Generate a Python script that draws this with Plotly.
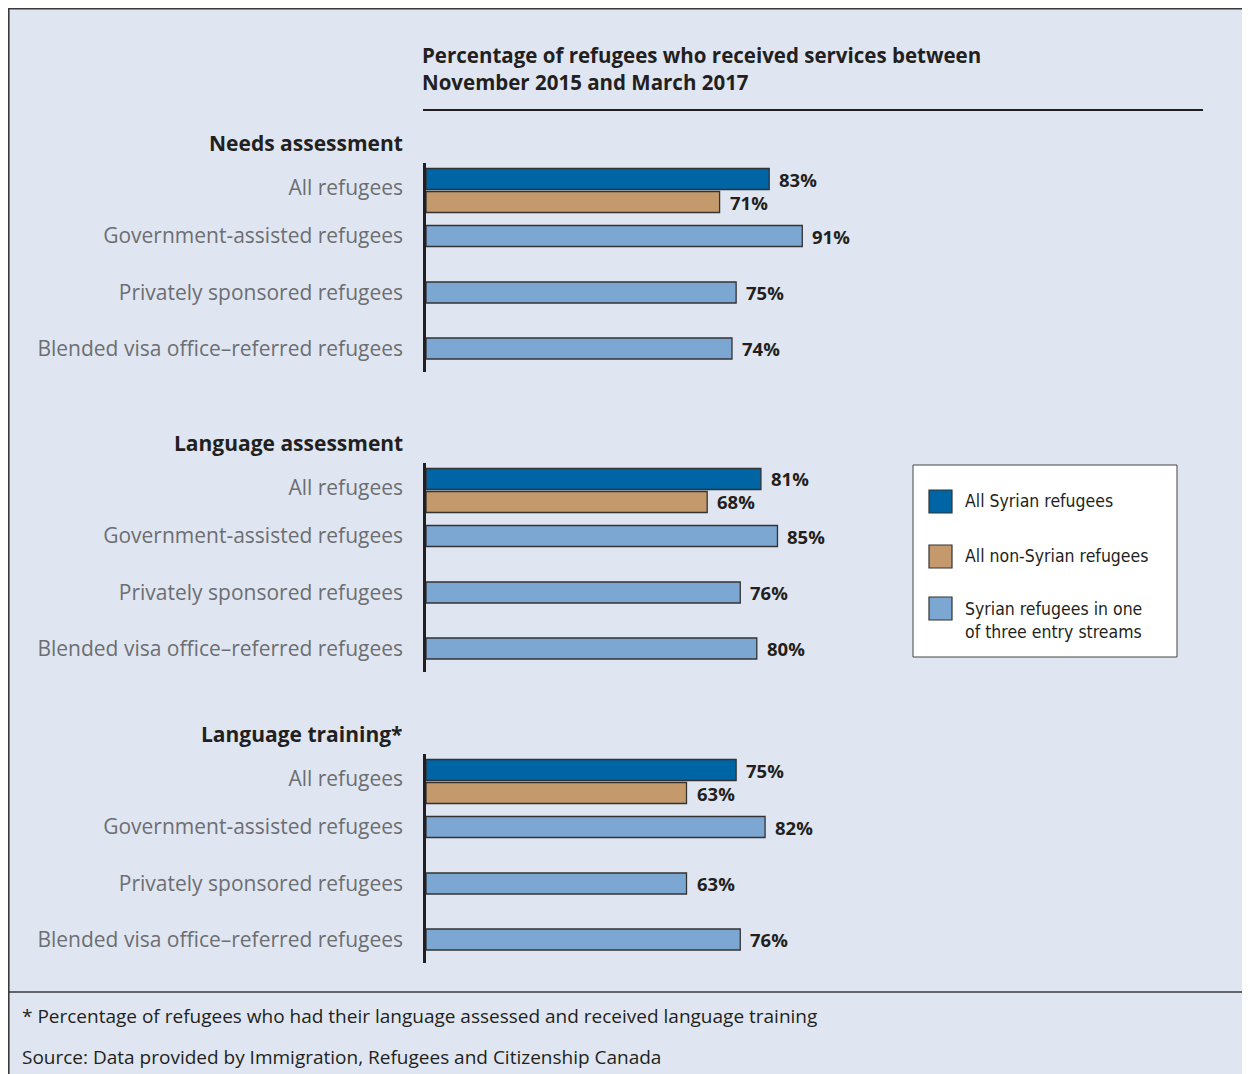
import plotly.graph_objects as go

# ---------------- data ----------------
panels = ["Needs assessment", "Language assessment", "Language training*"]
groups = ["All refugees", "Government-assisted refugees",
          "Privately sponsored refugees", "Blended visa office–referred refugees"]
all_syrian = [83, 81, 75]
all_non_syrian = [71, 68, 63]
government_assisted = [91, 85, 82]
privately_sponsored = [75, 76, 63]
blended_vor = [74, 80, 76]
series_names = ["All Syrian refugees", "All non-Syrian refugees",
                "Syrian refugees in one<br>of three entry streams"]
title_text = "Percentage of refugees who received services between<br>November 2015 and March 2017"
footnote = "* Percentage of refugees who had their language assessed and received language training"
source = "Source: Data provided by Immigration, Refugees and Citizenship Canada"

# ---------------- style / layout ----------------
OFF = 8                      # page body margin
W, H = 1250 - OFF, 1074 - OFF
C_SYR, C_NON, C_STR = "#0065a4", "#c49a6c", "#7ca7d3"
BG = "#dfe6f1"
DARK = "#231f20"
GREY = "#6d6e71"
FONT = "Open Sans"
NARROW = "DejaVu Sans Condensed, Liberation Sans Narrow, Arial Narrow, sans-serif"

# panel pixel spans (top, bottom) in page pixels
panel_px = [(163, 372), (463, 672), (754, 963)]
header_px = [143, 443, 734]
# slot positions inside a panel (units = px from panel top)
POS_SYR, POS_NON = 16, 39
POS_STREAMS = [73, 129.5, 185.5]
TICK_POS = [25, 73, 129.5, 185.5]
BAR_W = 21
X_LEFT = 426
X_MAX = (1250 - X_LEFT) / 4.135


def py(p):
    return 1 - (p - OFF) / H


def px(p):
    return (p - OFF) / W


fig = go.Figure()
annotations = []

for i, name in enumerate(panels):
    xa = "x" if i == 0 else f"x{i+1}"
    ya = "y" if i == 0 else f"y{i+1}"
    stream_vals = [government_assisted[i], privately_sponsored[i], blended_vor[i]]
    traces = [
        (series_names[0], [all_syrian[i]], [POS_SYR], C_SYR),
        (series_names[1], [all_non_syrian[i]], [POS_NON], C_NON),
        (series_names[2], stream_vals, POS_STREAMS, C_STR),
    ]
    for sname, vals, pos, col in traces:
        fig.add_trace(go.Bar(
            x=vals, y=pos, orientation="h", width=BAR_W,
            marker=dict(color=col, line=dict(color="#333333", width=1.3)),
            name=sname, showlegend=False, xaxis=xa, yaxis=ya,
            hoverinfo="skip"))
        for v, p in zip(vals, pos):
            annotations.append(dict(
                x=v, y=p, xref=xa, yref=ya, text=f"<b>{v}%</b>",
                showarrow=False, xanchor="left", yanchor="middle", xshift=8,
                font=dict(family=FONT, size=18.5, color=DARK)))
    top, bot = panel_px[i]
    sfx = "" if i == 0 else str(i + 1)
    fig.layout["xaxis" + sfx] = dict(
        domain=[px(X_LEFT), 1], range=[0, X_MAX], visible=False,
        anchor=ya, fixedrange=True)
    fig.layout["yaxis" + sfx] = dict(
        domain=[py(bot), py(top)], range=[bot - top, 0], anchor=xa,
        showline=True, linecolor=DARK, linewidth=2.5, ticks="",
        tickvals=TICK_POS, ticktext=groups, showgrid=False, zeroline=False,
        ticklabelstandoff=16,
        tickfont=dict(family=FONT, size=21, color=GREY), fixedrange=True)
    annotations.append(dict(
        x=px(405), y=py(header_px[i]), xref="paper", yref="paper",
        text=f"<b>{name}</b>", showarrow=False, xanchor="right",
        yanchor="middle", font=dict(family=FONT, size=21, color=DARK)))

# title
annotations.append(dict(
    x=px(420), y=py(39), xref="paper", yref="paper", text=f"<b>{title_text}</b>",
    showarrow=False, xanchor="left", yanchor="top", align="left",
    font=dict(family=FONT, size=20.5, color=DARK)))
# footer
annotations.append(dict(
    x=px(20), y=py(1016), xref="paper", yref="paper", text=footnote,
    showarrow=False, xanchor="left", yanchor="middle",
    font=dict(family=FONT, size=19, color=DARK)))
annotations.append(dict(
    x=px(20), y=py(1057), xref="paper", yref="paper", text=source,
    showarrow=False, xanchor="left", yanchor="middle",
    font=dict(family=FONT, size=19, color=DARK)))

shapes = [
    dict(type="rect", xref="paper", yref="paper", x0=px(7), x1=1.01, y0=-0.01, y1=py(8),
         fillcolor=BG, line=dict(width=0), layer="below"),
    dict(type="line", xref="paper", yref="paper", x0=0, x1=1.01, y0=py(8.8), y1=py(8.8),
         line=dict(color="#3a3a3a", width=1.6)),
    dict(type="line", xref="paper", yref="paper", x0=px(8.8), x1=px(8.8), y0=-0.01, y1=py(8),
         line=dict(color="#3a3a3a", width=1.6)),
    dict(type="line", xref="paper", yref="paper", x0=0, x1=1.01, y0=py(992), y1=py(992),
         line=dict(color="#3a3a3a", width=1.5)),
    dict(type="line", xref="paper", yref="paper", x0=px(423), x1=px(1203), y0=py(110), y1=py(110),
         line=dict(color=DARK, width=2)),
    # legend box
    dict(type="rect", xref="paper", yref="paper", x0=px(913), x1=px(1177), y0=py(657), y1=py(465),
         fillcolor="white", line=dict(color="#444444", width=1)),
]
legend_items = [(C_SYR, 490, 501), (C_NON, 545, 556), (C_STR, 597, 620)]
for (col, top, ty), sname in zip(legend_items, series_names):
    shapes.append(dict(type="rect", xref="paper", yref="paper",
                       x0=px(929), x1=px(952), y0=py(top + 23), y1=py(top),
                       fillcolor=col, line=dict(color="#333333", width=1.2)))
    annotations.append(dict(
        x=px(963), y=py(ty), xref="paper", yref="paper", text=sname,
        showarrow=False, xanchor="left", yanchor="middle", align="left",
        font=dict(family=NARROW, size=17.5, color=DARK)))

fig.update_layout(
    width=W, height=H, autosize=False,
    margin=dict(l=0, r=0, t=0, b=0),
    paper_bgcolor="white", plot_bgcolor="rgba(0,0,0,0)",
    barmode="overlay", showlegend=False,
    annotations=annotations, shapes=shapes,
    font=dict(family=FONT, color=DARK),
)

fig.write_html(
    "out.html", default_width=f"{W}px", default_height=f"{H}px",
    post_script="document.documentElement.style.overflow='hidden';"
                "document.body.style.overflow='hidden';")
